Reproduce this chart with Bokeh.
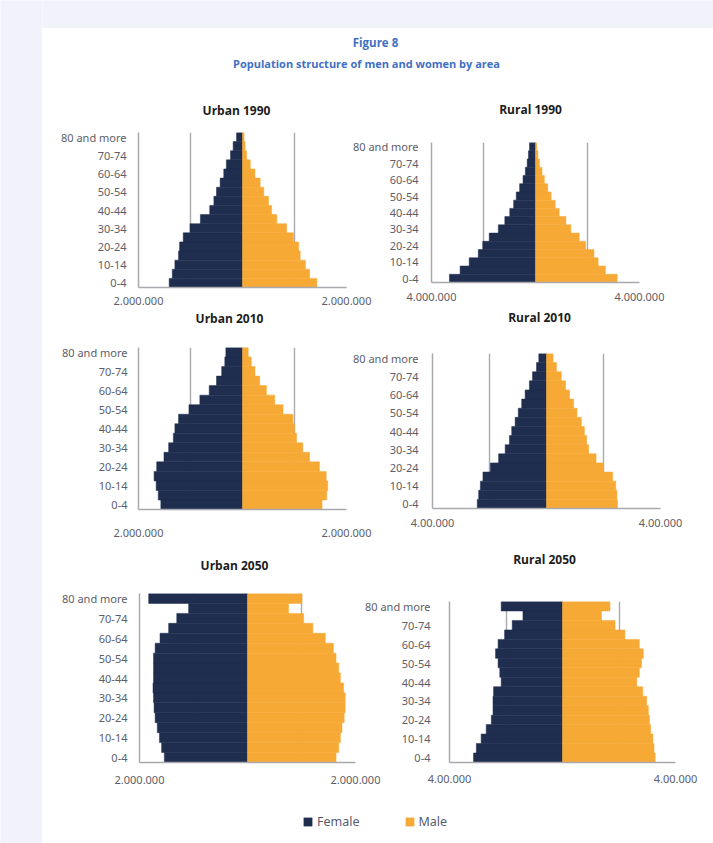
from bokeh.plotting import figure
from bokeh.layouts import row, column
from bokeh.models import (ColumnDataSource, FactorRange, Range1d, FixedTicker,
                          Label, Legend, LegendItem, CustomJSTickFormatter)
from bokeh.embed import file_html
from bokeh.resources import INLINE

# ---------------------------------------------------------------- data
AGE_GROUPS = ["0-4", "5-9", "10-14", "15-19", "20-24", "25-29", "30-34",
              "35-39", "40-44", "45-49", "50-54", "55-59", "60-64",
              "65-69", "70-74", "75-79", "80 and more"]
LABELLED_GROUPS = ["0-4", "10-14", "20-24", "30-34", "40-44", "50-54",
                   "60-64", "70-74", "80 and more"]

URBAN_1990_FEMALE = [1410000, 1350000, 1300000, 1230000, 1210000, 1140000, 1010000,
                     810000, 630000, 550000, 500000, 430000, 360000, 310000,
                     230000, 180000, 115000]
URBAN_1990_MALE = [1430000, 1290000, 1210000, 1110000, 1080000, 980000, 850000,
                   660000, 560000, 500000, 410000, 340000, 240000, 150000,
                   80000, 50000, 30000]

RURAL_1990_FEMALE = [3310000, 2900000, 2550000, 2200000, 2030000, 1780000, 1430000,
                     1180000, 990000, 840000, 740000, 610000, 480000, 390000,
                     320000, 270000, 230000]
RURAL_1990_MALE = [3140000, 2690000, 2410000, 2250000, 1930000, 1680000, 1360000,
                   1170000, 910000, 760000, 600000, 470000, 340000, 250000,
                   150000, 90000, 50000]

URBAN_2010_FEMALE = [1570000, 1620000, 1660000, 1700000, 1650000, 1510000, 1420000,
                     1330000, 1300000, 1230000, 1030000, 820000, 640000, 500000,
                     400000, 340000, 320000]
URBAN_2010_MALE = [1530000, 1620000, 1640000, 1610000, 1480000, 1290000, 1160000,
                   1040000, 1000000, 970000, 780000, 620000, 460000, 330000,
                   240000, 170000, 110000]

RURAL_2010_FEMALE = [2430000, 2380000, 2320000, 2230000, 1970000, 1680000, 1450000,
                     1300000, 1220000, 1100000, 990000, 870000, 750000, 600000,
                     490000, 350000, 270000]
RURAL_2010_MALE = [2490000, 2470000, 2430000, 2320000, 1990000, 1740000, 1480000,
                   1410000, 1330000, 1220000, 1070000, 950000, 810000, 670000,
                   520000, 350000, 230000]

URBAN_2050_FEMALE = [1540000, 1590000, 1630000, 1670000, 1710000, 1730000, 1740000,
                     1750000, 1740000, 1740000, 1740000, 1710000, 1620000, 1460000,
                     1310000, 1090000, 1830000]
URBAN_2050_MALE = [1640000, 1690000, 1720000, 1750000, 1790000, 1810000, 1810000,
                   1780000, 1720000, 1690000, 1640000, 1590000, 1440000, 1210000,
                   1040000, 760000, 1010000]

RURAL_2050_FEMALE = [3150000, 3050000, 2880000, 2700000, 2520000, 2460000, 2460000,
                     2440000, 2170000, 2220000, 2280000, 2370000, 2280000, 2050000,
                     1780000, 1400000, 2170000]
RURAL_2050_MALE = [3280000, 3240000, 3200000, 3120000, 3080000, 3040000, 2980000,
                   2840000, 2630000, 2720000, 2800000, 2860000, 2720000, 2210000,
                   1860000, 1380000, 1680000]

PANEL_TITLES = ["Urban 1990", "Rural 1990", "Urban 2010", "Rural 2010",
                "Urban 2050", "Rural 2050"]
AXIS_LIMITS = [2000000, 4000000, 2000000, 4000000, 2000000, 4000000]
AXIS_LIMIT_TEXT = ["2.000.000", "4.000.000", "2.000.000", "4.00.000",
                   "2.000.000", "4.00.000"]

FIGURE_TITLE = "Figure 8"
FIGURE_SUBTITLE = "Population structure of men and women by area"
SERIES_NAMES = ["Female", "Male"]

# ---------------------------------------------------------------- style
FEMALE_COLOR = "#1f2d4f"
MALE_COLOR = "#f7a935"
HEADER_BLUE = "#3f70c4"
PAGE_TINT = "#f1f2fa"
LINE_GREY = "#a9a9ae"
TEXT_GREY = "#5d5e68"
LABEL_FONT = "Noto Sans"
TITLE_FONT = "Open Sans"

CONTENT_W = 671
URBAN_W = 345
OVERLAP = 47                      # right-hand panels slide under the left panels' border
RURAL_W = CONTENT_W - URBAN_W + OVERLAP

# each row: height of the title strip above the pyramids and of the pyramids themselves
ROWS = [dict(strip=30, h=190), dict(strip=25, h=210), dict(strip=35, h=215)]

# per panel: borders around the frame, label standoffs, title centre (dx from frame
# centre, ty from the top of the title strip)
LAYOUT = [
    dict(left=96, fw=208, top=12, bottom=23, xs=9, ys=12, tdx=-6, ty=20),
    dict(left=91, fw=208, top=22, bottom=28, xs=10, ys=13, tdx=-5, ty=19),
    dict(left=96, fw=208, top=12, bottom=36, xs=19, ys=11, tdx=-13, ty=8),
    dict(left=92, fw=228, top=18, bottom=37, xs=10, ys=14, tdx=-7, ty=7),
    dict(left=97, fw=216, top=13, bottom=33, xs=13, ys=12, tdx=-13, ty=20),
    dict(left=109, fw=226, top=21, bottom=33, xs=12, ys=19, tdx=-18, ty=14),
]


def blank(width, height, color="#ffffff"):
    p = figure(width=width, height=height, output_backend="svg", toolbar_location=None,
               x_axis_location=None, y_axis_location=None, min_border=0,
               x_range=Range1d(0, 1), y_range=Range1d(0, 1),
               background_fill_color=color, border_fill_color=color,
               outline_line_color=None)
    p.grid.visible = False
    p.frame_align = False
    return p


def style_axis(axis, standoff):
    axis.major_tick_line_color = None
    axis.minor_tick_line_color = None
    axis.major_tick_out = 0
    axis.major_tick_in = 0
    axis.minor_tick_out = 0
    axis.minor_tick_in = 0
    axis.major_label_standoff = standoff
    axis.axis_line_color = LINE_GREY
    axis.axis_line_width = 1.5
    axis.major_label_text_font = LABEL_FONT
    axis.major_label_text_font_size = "11px"
    axis.major_label_text_color = TEXT_GREY


def pyramid(female, male, limit, limit_text, width, height, g, transparent=False):
    p = figure(width=width, height=height, output_backend="svg", toolbar_location=None,
               x_range=Range1d(-limit, limit), y_range=FactorRange(factors=AGE_GROUPS),
               min_border_left=g["left"], min_border_right=width - g["left"] - g["fw"],
               min_border_top=g["top"], min_border_bottom=g["bottom"],
               background_fill_color="#ffffff", border_fill_color="#ffffff",
               outline_line_color=None)
    p.frame_align = False
    if transparent:
        p.border_fill_alpha = 0
        p.margin = (0, 0, 0, -OVERLAP)

    src = ColumnDataSource(dict(age=AGE_GROUPS,
                                female=[-v for v in female],
                                male=list(male)))
    p.hbar(y="age", left="female", right=0, height=1.0, source=src,
           fill_color=FEMALE_COLOR, line_color=FEMALE_COLOR, line_width=0.5)
    p.hbar(y="age", left=0, right="male", height=1.0, source=src,
           fill_color=MALE_COLOR, line_color=MALE_COLOR, line_width=0.5)

    xa = p.xaxis[0]
    xa.ticker = FixedTicker(ticks=[-limit, limit])
    xa.major_label_overrides = {-limit: limit_text, limit: limit_text}
    style_axis(xa, g["xs"])

    ya = p.yaxis[0]
    ya.formatter = CustomJSTickFormatter(args=dict(shown=LABELLED_GROUPS),
                                         code="return shown.includes(tick) ? tick : ''")
    style_axis(ya, g["ys"])

    p.ygrid.visible = False
    p.xgrid.ticker = FixedTicker(ticks=[-limit / 2, limit / 2, limit])
    p.xgrid.grid_line_color = LINE_GREY
    p.xgrid.grid_line_width = 1.4
    return p


def title_label(text, x, y):
    return Label(x=x, y=y, x_units="screen", y_units="screen", text=text,
                 text_align="center", text_baseline="middle", text_font=TITLE_FONT,
                 text_font_style="bold", text_font_size="12px", text_color="#1c1c1c")


SERIES = [
    (URBAN_1990_FEMALE, URBAN_1990_MALE), (RURAL_1990_FEMALE, RURAL_1990_MALE),
    (URBAN_2010_FEMALE, URBAN_2010_MALE), (RURAL_2010_FEMALE, RURAL_2010_MALE),
    (URBAN_2050_FEMALE, URBAN_2050_MALE), (RURAL_2050_FEMALE, RURAL_2050_MALE),
]

rows = []
for r, spec in enumerate(ROWS):
    strip = blank(CONTENT_W, spec["strip"])
    pair = []
    for side in (0, 1):
        i = 2 * r + side
        g = LAYOUT[i]
        width = URBAN_W if side == 0 else RURAL_W
        x0 = 0 if side == 0 else URBAN_W - OVERLAP
        fem, mal = SERIES[i]
        pair.append(pyramid(fem, mal, AXIS_LIMITS[i], AXIS_LIMIT_TEXT[i],
                            width, spec["h"], g, transparent=(side == 1)))
        strip.add_layout(title_label(PANEL_TITLES[i],
                                     x0 + g["left"] + g["fw"] / 2 + g["tdx"],
                                     spec["strip"] - g["ty"]))
    rows.append(strip)
    rows.append(row(*pair))

# header with the figure caption
header = blank(CONTENT_W, 62)
header.add_layout(Label(x=333, y=48, x_units="screen", y_units="screen", text=FIGURE_TITLE,
                        text_align="center", text_baseline="middle", text_font=TITLE_FONT,
                        text_font_style="bold", text_font_size="11.5px",
                        text_color=HEADER_BLUE))
header.add_layout(Label(x=324, y=27, x_units="screen", y_units="screen", text=FIGURE_SUBTITLE,
                        text_align="center", text_baseline="middle", text_font=TITLE_FONT,
                        text_font_style="bold", text_font_size="11px",
                        text_color=HEADER_BLUE))

# shared legend underneath the panels; its swatch glyphs sit outside the visible range
legend_fig = blank(CONTENT_W, 48)
rf = legend_fig.quad(left=[-3], right=[-2], bottom=[-3], top=[-2],
                     fill_color=FEMALE_COLOR, line_color=None)
rm = legend_fig.quad(left=[-3], right=[-2], bottom=[-3], top=[-2],
                     fill_color=MALE_COLOR, line_color=None)
legend = Legend(items=[LegendItem(label=SERIES_NAMES[0], renderers=[rf]),
                       LegendItem(label=SERIES_NAMES[1], renderers=[rm])],
                orientation="horizontal", location=(260, 13), padding=0, margin=0,
                spacing=44, glyph_width=11, glyph_height=11, label_standoff=4,
                border_line_color=None, background_fill_alpha=0,
                label_text_font=LABEL_FONT, label_text_font_size="12.5px",
                label_text_color="#575b6e")
legend_fig.add_layout(legend)

left_strip = blank(42, 843, PAGE_TINT)
top_strip = blank(CONTENT_W, 28, PAGE_TINT)

content = column(top_strip, header, *rows, legend_fig)
page = row(left_strip, content)

with open("out.html", "w") as f:
    f.write(file_html(page, INLINE))
